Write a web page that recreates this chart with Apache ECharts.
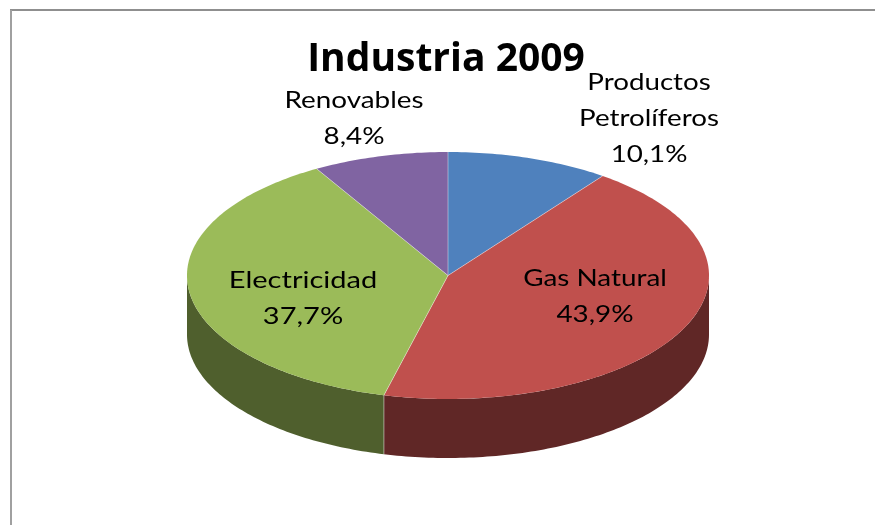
<!DOCTYPE html>
<html><head><meta charset="utf-8">
<style>html,body{margin:0;padding:0;background:#fff}#c{width:875px;height:525px}</style>
<script src="https://cdn.jsdelivr.net/npm/echarts@6/dist/echarts.min.js"></script>
</head><body><div id="c"></div>
<script>
const titleText = 'Industria 2009';
const categories = ['Productos\nPetrolíferos', 'Gas Natural', 'Electricidad', 'Renovables'];
const shares = [10.1, 43.9, 37.7, 8.4];
const topColors = ['#4F81BD', '#C0504D', '#9BBB59', '#8064A2'];
const sideColors = ['#2A4A70', '#602726', '#4F5F2D', '#463660'];
const labelCenters = [[649, 118], [595, 296], [303, 298], [354, 118]];
const labelStretch = [1.155, 1.16, 1.21, 1.16];

const cx = 448, cy = 275.5, rx = 261, ry = 123.5, depth = 59;
const total = shares.reduce((a, b) => a + b, 0);
const pt = (deg, dy) => {
  const t = deg * Math.PI / 180;
  return [cx + rx * Math.sin(t), cy + dy - ry * Math.cos(t)];
};
const arc = (a, b, dy) => {
  const out = [], n = Math.max(2, Math.ceil(Math.abs(b - a)));
  for (let i = 0; i <= n; i++) out.push(pt(a + (b - a) * i / n, dy));
  return out;
};
const fmt = v => v.toFixed(1).replace('.', ',') + '%';

function renderItem(params, api) {
  const i = params.dataIndex;
  const v = api.value(0);
  let before = 0;
  for (let k = 0; k < i; k++) before += shares[k];
  const a0 = before / total * 360, a1 = (before + v) / total * 360;
  const children = [];
  const s0 = Math.max(a0, 90), s1 = Math.min(a1, 270);
  if (s1 > s0) {
    children.push({
      type: 'polygon', z2: 1,
      shape: { points: arc(s0, s1, 0).concat(arc(s1, s0, depth)) },
      style: { fill: sideColors[i] }
    });
    if (s1 < 270) {
      children.push({
        type: 'line', z2: 2,
        shape: { x1: pt(s1, 0)[0], y1: pt(s1, 0)[1], x2: pt(s1, depth)[0], y2: pt(s1, depth)[1] },
        style: { stroke: 'rgba(255,255,255,0.45)', lineWidth: 1 }
      });
    }
  }
  children.push({
    type: 'polygon', z2: 3,
    shape: { points: [[cx, cy]].concat(arc(a0, a1, 0)) },
    style: { fill: topColors[i] }
  });
  const e = pt(a0, 0);
  children.push({
    type: 'line', z2: 4,
    shape: { x1: cx, y1: cy, x2: e[0], y2: e[1] },
    style: { stroke: 'rgba(255,255,255,0.4)', lineWidth: 1 }
  });
  children.push({
    type: 'text', z2: 5,
    x: labelCenters[i][0], y: labelCenters[i][1], scaleX: labelStretch[i],
    style: {
      text: categories[i] + '\n' + fmt(v),
      fill: '#000', align: 'center', verticalAlign: 'middle',
      font: '24px Lato', lineHeight: 36
    }
  });
  return { type: 'group', children };
}

const chart = echarts.init(document.getElementById('c'), null, { renderer: 'canvas' });
chart.setOption({
  animation: false,
  backgroundColor: '#fff',
  title: {
    text: titleText, left: 441, top: 35, textAlign: 'center',
    textStyle: { fontFamily: 'Open Sans', fontWeight: 'bold', fontSize: 39, color: '#000' }
  },
  graphic: [
    { type: 'line', shape: { x1: 10, y1: 10, x2: 875, y2: 10 }, style: { stroke: '#8f8f8f', lineWidth: 2 } },
    { type: 'line', shape: { x1: 11, y1: 10, x2: 11, y2: 525 }, style: { stroke: '#a0a0a0', lineWidth: 2 } }
  ],
  series: [{
    type: 'custom', coordinateSystem: 'none', renderItem,
    data: shares.map((v, i) => ({ value: [v], name: categories[i] }))
  }]
});
</script></body></html>
